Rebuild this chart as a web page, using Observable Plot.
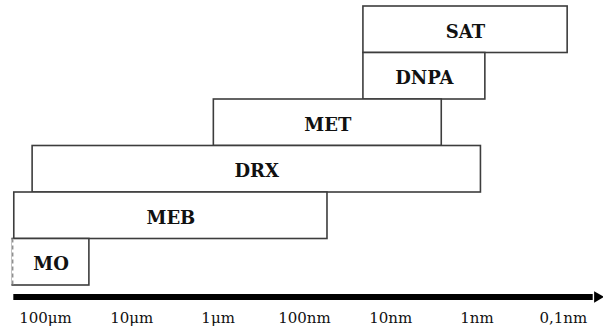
<!DOCTYPE html>
<html>
<head>
<meta charset="utf-8">
<script src="https://cdn.jsdelivr.net/npm/d3@7"></script>
<script src="https://cdn.jsdelivr.net/npm/@observablehq/plot@0.6"></script>
<style>
  html, body { margin: 0; padding: 0; background: #fff; }
  #chart svg { display: block; }
</style>
</head>
<body>
<div id="chart"></div>
<script>
// Techniques and their resolvable size ranges (in nm, large -> small)
const techniques = ["SAT", "DNPA", "MET", "DRX", "MEB", "MO"];
const rangeFrom  = [20.7, 20.7, 1120, 141000, 230000, 240000];
const rangeTo    = [0.089, 0.8, 2.56, 0.9, 54, 31000];

// Axis tick values (nm) and their labels
const tickValues = [1e5, 1e4, 1e3, 100, 10, 1, 0.1];
const tickLabels = ["100μm", "10μm", "1μm", "100nm", "10nm", "1nm", "0,1nm"];

const rows = techniques.map((name, i) => ({
  name, row: i, from: rangeFrom[i], to: rangeTo[i]
}));
const labelMap = new Map(tickValues.map((v, i) => [v, tickLabels[i]]));

const W = 603, H = 329;
const axisRow = 6.247;          // vertical position of the arrow (in row units)
const axisStart = 232900, axisEnd = 0.045;

const chart = Plot.plot({
  width: W,
  height: H,
  marginLeft: 0,
  marginRight: 0,
  marginTop: 6,
  marginBottom: 44,
  style: { fontFamily: "'DejaVu Serif', serif", background: "#fff", color: "#000" },
  x: { type: "log", domain: [332200, 0.0342], axis: null },
  y: { domain: [0, 6], reverse: true, axis: null },
  marks: [
    Plot.rect(rows, {
      x1: "from", x2: "to",
      y1: "row", y2: d => d.row + 1,
      fill: "white", stroke: "#3d3d3d", strokeWidth: 1.6
    }),
    // MO left edge: dashed
    Plot.ruleX([rows[5]], { x: "from", y1: 5.02, y2: 5.98, stroke: "white", strokeWidth: 2.4 }),
    Plot.ruleX([rows[5]], { x: "from", y1: 5, y2: 6, stroke: "#909090", strokeWidth: 1.5, strokeDasharray: "4,3" }),
    Plot.text(rows, {
      x: d => Math.sqrt(d.from * d.to),
      y: d => d.row + 0.5,
      text: "name",
      fontWeight: "bold",
      fontSize: 18,
      dy: 2,
      fill: "#111",
      textAnchor: "middle"
    }),
    // axis arrow
    Plot.ruleY([axisRow], { x1: axisStart, x2: axisEnd, stroke: "black", strokeWidth: 6 }),
    Plot.dot([{ x: 0.0402, y: axisRow }], {
      x: "x", y: "y", symbol: "triangle2", r: 5.5, rotate: 90, fill: "black", stroke: "none"
    }),
    Plot.axisX({
      ticks: tickValues,
      tickFormat: d => labelMap.get(d),
      tickSize: 0,
      tickPadding: 27,
      fontSize: 15,
      label: null,
      fill: "#111"
    })
  ]
});

document.getElementById("chart").appendChild(chart);
</script>
</body>
</html>
